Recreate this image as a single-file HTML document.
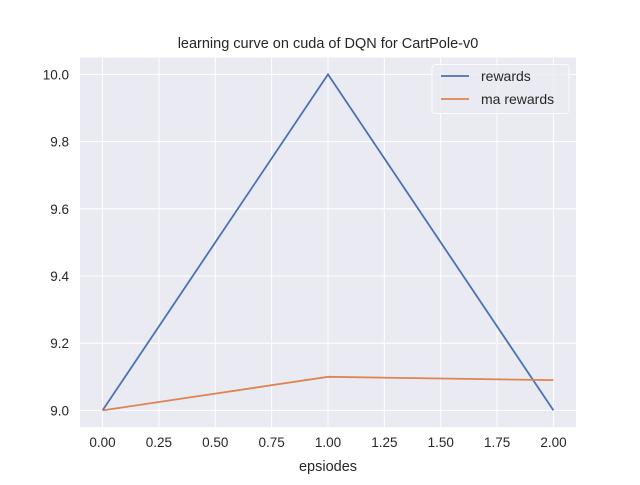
<!DOCTYPE html>
<html><head><meta charset="utf-8"><style>
body{margin:0;background:#fff}
svg text{font-family:"Liberation Sans",Arial,sans-serif;fill:#262626}
</style></head><body>
<svg id="chart" width="640" height="480">
<rect x="80" y="57.6" width="496" height="369.6" fill="#eaeaf2"/>
<g id="grid"></g><g id="series"></g><g id="ticks"></g>
<text x="328" y="48" text-anchor="middle" font-size="14.5">learning curve on cuda of DQN for CartPole-v0</text>
<text x="328" y="471" text-anchor="middle" font-size="14.5">epsiodes</text>
<g>
<rect x="432" y="64.5" width="137" height="49" rx="3" fill="#eaeaf2" stroke="#fff" opacity="0.8"/>
<line x1="441" y1="76" x2="469" y2="76" stroke="#4c72b0" stroke-width="1.8"/>
<text x="481" y="81" font-size="14">rewards</text>
<line x1="441" y1="99" x2="469" y2="99" stroke="#dd8452" stroke-width="1.8"/>
<text x="481" y="104" font-size="14">ma rewards</text>
</g>
</svg>
<script>
const episodes=[0,1,2];
const rewards=[9,10,9];
const maRewards=[9,9.1,9.09];
const xTicks=[0,0.25,0.5,0.75,1,1.25,1.5,1.75,2];
const yTicks=[9.0,9.2,9.4,9.6,9.8,10.0];
const L=80,R=576,T=57.6,B=427.2;
const xmin=-0.1,xmax=2.1,ymin=8.95,ymax=10.05;
const sx=v=>L+(v-xmin)/(xmax-xmin)*(R-L);
const sy=v=>B-(v-ymin)/(ymax-ymin)*(B-T);
const NS="http://www.w3.org/2000/svg";
const g=document.getElementById('grid'),tk=document.getElementById('ticks'),s=document.getElementById('series');
function mk(tag,at,p){const e=document.createElementNS(NS,tag);for(const k in at)e.setAttribute(k,at[k]);p.appendChild(e);return e;}
xTicks.forEach(v=>{
 const l=mk('line',{x1:sx(v),x2:sx(v),y1:T,y2:B,stroke:'#fff','stroke-width':1},g);
 
 
 const t=mk('text',{x:sx(v),y:B+20,'text-anchor':'middle','font-size':13.5},tk);
 t.textContent=v.toFixed(2);
 
 
});
yTicks.forEach(v=>{
 const l=mk('line',{x1:L,x2:R,y1:sy(v),y2:sy(v),stroke:'#fff','stroke-width':1},g);
 
 
 const t=mk('text',{x:L-11,y:sy(v)+5,'text-anchor':'end','font-size':13.5},tk);
 t.textContent=v.toFixed(1);
 
 
});
function line(ys,c,name){
 const p=mk('polyline',{points:episodes.map((x,i)=>sx(x)+','+sy(ys[i])).join(' '),fill:'none',stroke:c,'stroke-width':1.8},s);
 
 
}
line(rewards,'#4c72b0','rewards-line');
line(maRewards,'#dd8452','ma-rewards-line');
</script>
</body></html>
